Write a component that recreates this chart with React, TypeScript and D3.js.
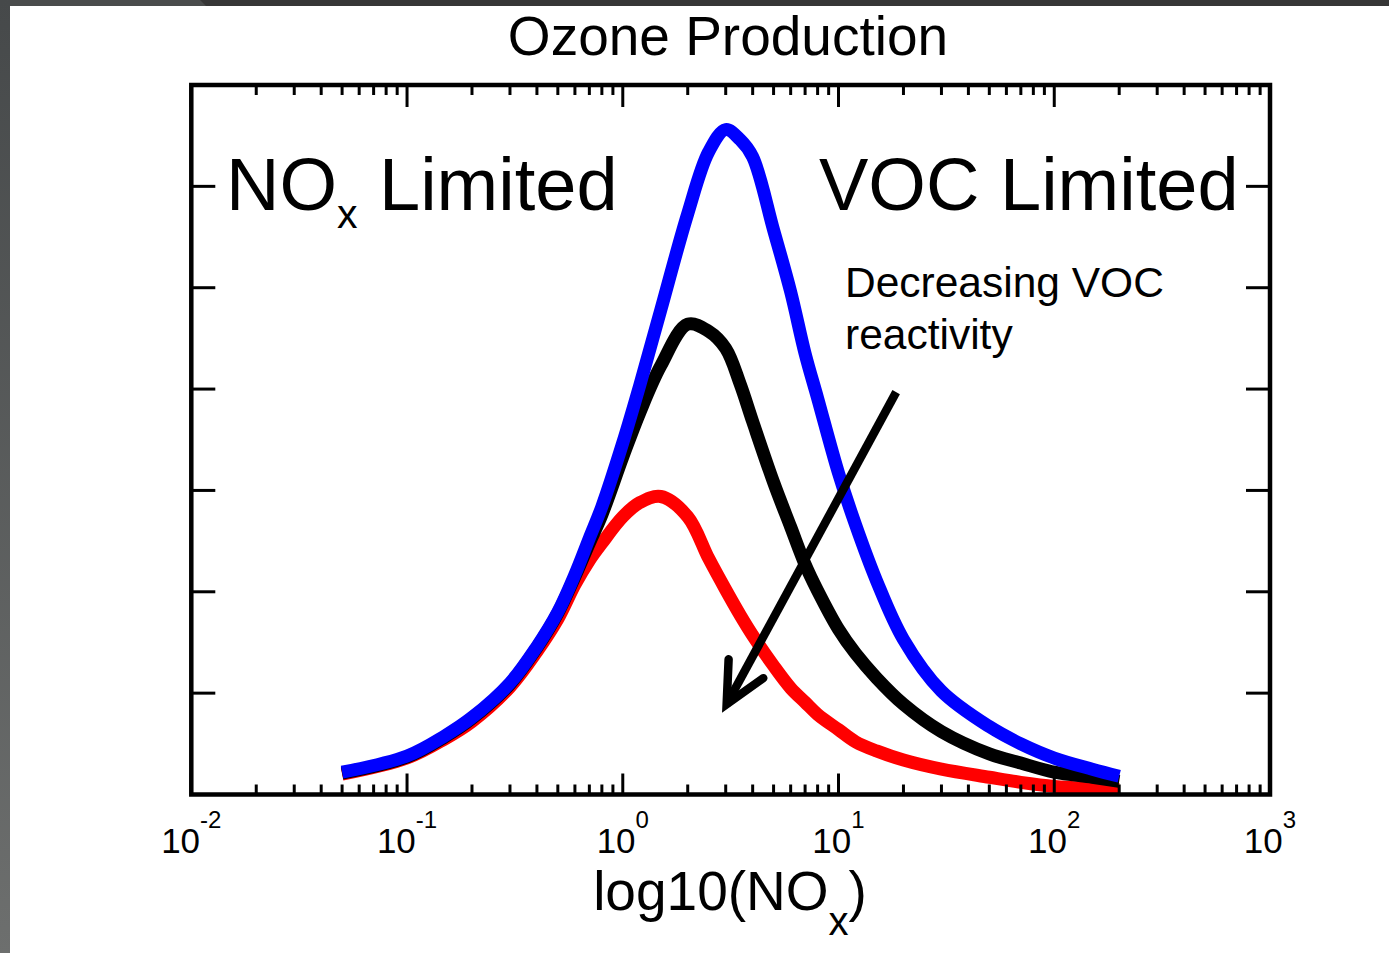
import React from "react";
import * as d3 from "d3";

// ---- data ----
const NOX = [0.05, 0.1, 0.15, 0.2, 0.3, 0.4, 0.5, 0.6, 0.7, 0.8, 1.0, 1.2, 1.5, 2, 2.5, 3, 3.5, 4, 5, 6, 7, 8, 10, 12, 15, 20, 30, 50, 70, 100, 150, 200];
const O3_HIGH = [0.22, 0.38, 0.58, 0.76, 1.1, 1.46, 1.8, 2.17, 2.53, 2.84, 3.47, 4.04, 4.78, 5.73, 6.34, 6.56, 6.46, 6.29, 5.57, 4.96, 4.35, 3.91, 3.17, 2.66, 2.11, 1.53, 1.02, 0.67, 0.5, 0.36, 0.25, 0.18];
const O3_MID = [0.21, 0.37, 0.57, 0.75, 1.09, 1.45, 1.79, 2.15, 2.48, 2.76, 3.33, 3.77, 4.23, 4.64, 4.57, 4.4, 4.05, 3.68, 3.08, 2.64, 2.27, 2.01, 1.63, 1.39, 1.15, 0.89, 0.62, 0.4, 0.31, 0.22, 0.17, 0.13];
const O3_LOW = [0.2, 0.36, 0.55, 0.72, 1.06, 1.41, 1.73, 2.07, 2.31, 2.48, 2.74, 2.88, 2.94, 2.74, 2.33, 2.02, 1.77, 1.57, 1.27, 1.05, 0.91, 0.79, 0.64, 0.52, 0.43, 0.34, 0.25, 0.17, 0.12, 0.08, 0.06, 0.05];
const SERIES_COLORS = ["#ff0000", "#000000", "#0000ff"];
const X_DECADES = [-2, -1, 0, 1, 2, 3];
const Y_TICKS = [1, 2, 3, 4, 5, 6];
const ARROW_FROM = [18.5, 3.97];
const ARROW_TO = [3.03, 0.89];

const FONT = "'Liberation Sans', Arial, Helvetica, sans-serif";

export default function App() {
  const W = 1389, H = 953;
  const x = d3.scaleLog().domain([0.01, 1000]).range([191.3, 1270]);
  const y = d3.scaleLinear().domain([0, 7]).range([794.5, 85]);
  const [x0, x1] = x.range();
  const [yb, yt] = y.range();

  const line = d3
    .line<[number, number]>()
    .x((d) => x(d[0]))
    .y((d) => y(d[1]))
    .curve(d3.curveCatmullRom.alpha(0.5));

  const series = [O3_LOW, O3_MID, O3_HIGH];

  const majors = X_DECADES.map((e) => Math.pow(10, e));
  const minors: number[] = [];
  for (let e = -2; e < 3; e++) for (let k = 2; k <= 9; k++) minors.push(k * Math.pow(10, e));

  const ax0 = x(ARROW_FROM[0]), ay0 = y(ARROW_FROM[1]);
  const ax1 = x(ARROW_TO[0]), ay1 = y(ARROW_TO[1]);
  const ang = Math.atan2(ay0 - ay1, ax0 - ax1);
  const headLen = 45, headAng = (26 * Math.PI) / 180;
  const h1 = [ax1 + headLen * Math.cos(ang + headAng), ay1 + headLen * Math.sin(ang + headAng)];
  const h2 = [ax1 + headLen * Math.cos(ang - headAng), ay1 + headLen * Math.sin(ang - headAng)];

  return (
    <svg width={W} height={H} style={{ position: "absolute", left: 0, top: 0 }} fontFamily={FONT}>
      <defs>
        <linearGradient id="side" x1="0" y1="0" x2="0" y2="1">
          <stop offset="0" stopColor="#46494a" />
          <stop offset="1" stopColor="#6d6f6e" />
        </linearGradient>
      </defs>
      <rect x={0} y={0} width={W} height={H} fill="#ffffff" />
      <rect x={0} y={0} width={W} height={6} fill="#363636" />
      <path d="M0,0 L200,0 L206,6 L0,6 Z" fill="#4a4c4c" />
      <rect x={0} y={0} width={10} height={H} fill="url(#side)" />

      <text x={728} y={55} fontSize={55} textAnchor="middle" fill="#000">Ozone Production</text>

      {series.map((s, i) => (
        <path
          key={i}
          d={line(NOX.map((n, j) => [n, s[j]] as [number, number])) || ""}
          fill="none"
          stroke={SERIES_COLORS[i]}
          strokeWidth={13}
          strokeLinejoin="round"
        />
      ))}

      <rect x={x0} y={yt} width={x1 - x0} height={yb - yt} fill="none" stroke="#000" strokeWidth={4.5} />

      {minors.map((v, i) => (
        <g key={"mi" + i} stroke="#000" strokeWidth={3}>
          <line x1={x(v)} x2={x(v)} y1={yb} y2={yb - 10} />
          <line x1={x(v)} x2={x(v)} y1={yt} y2={yt + 10} />
        </g>
      ))}
      {majors.map((v, i) => (
        <g key={"ma" + i} stroke="#000" strokeWidth={3}>
          <line x1={x(v)} x2={x(v)} y1={yb} y2={yb - 21} />
          <line x1={x(v)} x2={x(v)} y1={yt} y2={yt + 22} />
        </g>
      ))}
      {Y_TICKS.map((v, i) => (
        <g key={"y" + i} stroke="#000" strokeWidth={3}>
          <line x1={x0} x2={x0 + 24} y1={y(v)} y2={y(v)} />
          <line x1={x1} x2={x1 - 24} y1={y(v)} y2={y(v)} />
        </g>
      ))}

      {X_DECADES.map((e, i) => (
        <text key={"xl" + i} x={x(Math.pow(10, e))} y={853} fontSize={35} textAnchor="middle" fill="#000">
          10
          <tspan fontSize={24} dy={-25}>{String(e)}</tspan>
        </text>
      ))}

      <text x={730} y={910} fontSize={55} textAnchor="middle" fill="#000">
        log10(NO
        <tspan fontSize={40} dy={25}>x</tspan>
        <tspan dy={-25}>)</tspan>
      </text>

      <text x={226} y={210} fontSize={74} fill="#000">
        NO
        <tspan fontSize={41} dy={18}>x</tspan>
        <tspan x={379} dy={-18}>Limited</tspan>
      </text>
      <text x={819} y={210} fontSize={74} fill="#000">
        VOC
        <tspan x={1000}>Limited</tspan>
      </text>
      <text x={845} y={297} fontSize={42.5} fill="#000">Decreasing VOC</text>
      <text x={845} y={349} fontSize={42.5} fill="#000">reactivity</text>

      <g stroke="#000" strokeWidth={8.5} fill="none">
        <line x1={ax0} y1={ay0} x2={ax1} y2={ay1} />
        <polyline points={`${h1[0]},${h1[1]} ${ax1},${ay1} ${h2[0]},${h2[1]}`} strokeLinecap="round" strokeLinejoin="miter" />
      </g>
    </svg>
  );
}
